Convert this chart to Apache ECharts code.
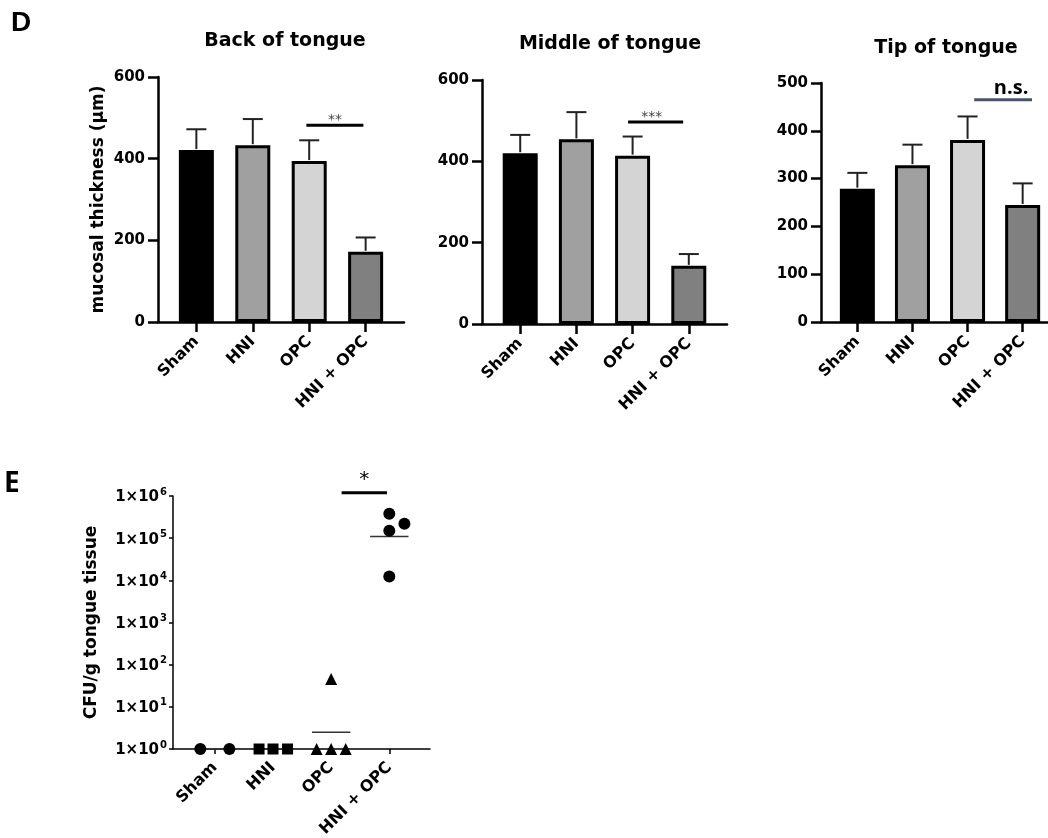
<!DOCTYPE html>
<html><head><meta charset="utf-8">
<script src="https://cdn.jsdelivr.net/npm/echarts@6/dist/echarts.min.js"></script>
<style>html,body{margin:0;padding:0;background:#fff}#c{width:1048px;height:838px}</style>
</head><body><div id="c"></div><script>
// ---------- data ----------
const categories = ['Sham', 'HNI', 'OPC', 'HNI + OPC'];
const barColors = ['#000000', '#a0a0a0', '#d4d4d4', '#808080'];

const backMean = [421, 433, 394, 172];
const backErr = [51, 64, 51, 35];
const middleMean = [420, 454, 414, 143];
const middleErr = [45, 67, 47, 29];
const tipMean = [279, 328, 381, 245];
const tipErr = [33, 43, 49, 45];

const backYTicks = [0, 200, 400, 600];
const middleYTicks = [0, 200, 400, 600];
const tipYTicks = [0, 100, 200, 300, 400, 500];

// CFU per group (individual animals) with horizontal jitter (in category units)
const shamCFU = [1, 1];
const shamJitter = [-0.25, 0.25];
const hniCFU = [1, 1, 1];
const hniJitter = [-0.24, 0, 0.25];
const opcCFU = [1, 46, 1, 1];
const opcJitter = [-0.25, 0, 0, 0.25];
const hniOpcCFU = [3.8e5, 2.2e5, 1.5e5, 1.24e4];
const hniOpcJitter = [0, 0.26, 0, 0];
const cfuMean = [1, 1, 2.5, 1.1e5];
const cfuYTicks = [1, 1e1, 1e2, 1e3, 1e4, 1e5, 1e6];

// significance brackets: [from group, to group, y value], label
const backSig = [1.95, 2.96, 482]; const backSigText = '**';
const middleSig = [1.92, 2.90, 497]; const middleSigText = '***';
const tipSig = [2.12, 3.17, 465]; const tipSigText = 'n.s.';
const cfuSig = [2.18, 2.96, 1.2e6]; const cfuSigText = '*';

// ---------- helpers ----------
const FONT = 'DejaVu Sans';
const idx = categories.map((c, i) => i);

function barXAxis(gi, min, max) {
  return {
    type: 'value', gridIndex: gi, min: min, max: max,
    axisLine: {show: true, onZero: false, lineStyle: {color: '#000', width: 2.5}},
    axisTick: {show: true, customValues: idx, length: 10, lineStyle: {color: '#000', width: 2.5}},
    axisLabel: {show: true, customValues: idx, rotate: 45, margin: 17, interval: 0,
      formatter: v => categories[Math.round(v)] || '',
      fontFamily: FONT, fontWeight: 'bold', fontSize: 16, color: '#000'},
    splitLine: {show: false}
  };
}
function barYAxis(gi, ticks, name) {
  return {
    type: 'value', gridIndex: gi, min: ticks[0], max: ticks[ticks.length - 1],
    interval: ticks[1] - ticks[0],
    name: name || '', nameLocation: 'middle', nameGap: 51,
    nameTextStyle: {fontFamily: FONT, fontWeight: 'bold', fontSize: 17, color: '#000'},
    axisLine: {show: true, onZero: false, lineStyle: {color: '#000', width: 2.5}},
    axisTick: {show: true, length: 10, lineStyle: {color: '#000', width: 2.5}},
    axisLabel: {margin: 13, fontFamily: FONT, fontWeight: 'bold', fontSize: 15, color: '#000'},
    splitLine: {show: false}
  };
}
function barSeries(gi, means) {
  return {
    type: 'bar', xAxisIndex: gi, yAxisIndex: gi, barWidth: 35,
    data: means.map((m, i) => ({value: [i, m], itemStyle: {color: barColors[i]}})),
    itemStyle: {borderColor: '#000', borderWidth: 3},
    z: 2
  };
}
function errSeries(gi, means, errs) {
  return {
    type: 'custom', xAxisIndex: gi, yAxisIndex: gi, z: 3,
    data: means.map((m, i) => [i, m, m + errs[i]]),
    encode: {x: 0, y: [1, 2]},
    renderItem: function (params, api) {
      const p0 = api.coord([api.value(0), api.value(1)]);
      const p1 = api.coord([api.value(0), api.value(2)]);
      const st = {stroke: '#222', lineWidth: 2};
      return {type: 'group', children: [
        {type: 'line', shape: {x1: p0[0], y1: p0[1] - 1, x2: p1[0], y2: p1[1]}, style: st},
        {type: 'line', shape: {x1: p1[0] - 10, y1: p1[1], x2: p1[0] + 10, y2: p1[1]}, style: st}
      ]};
    }
  };
}
function sigSeries(gi, sig, text, opts) {
  return {
    type: 'custom', xAxisIndex: gi, yAxisIndex: gi, z: 4, clip: false,
    data: [sig],
    encode: {x: [0, 1], y: 2},
    renderItem: function (params, api) {
      const a = api.coord([api.value(0), api.value(2)]);
      const b = api.coord([api.value(1), api.value(2)]);
      return {type: 'group', children: [
        {type: 'line', shape: {x1: a[0], y1: a[1], x2: b[0], y2: b[1]},
          style: {stroke: opts.lineColor, lineWidth: opts.lineWidth}},
        {type: 'text', style: {text: text, x: (a[0] + b[0]) / 2 + (opts.dx || 0), y: a[1] + (opts.dy || 0),
          align: 'center', verticalAlign: 'bottom', fill: opts.textColor,
          font: opts.font}}
      ]};
    }
  };
}
function cfuScatter(vals, jitter, groupIndex, symbol, size) {
  return {
    type: 'scatter', xAxisIndex: 3, yAxisIndex: 3, symbol: symbol, symbolSize: size, clip: false,
    itemStyle: {color: '#000', opacity: 1}, z: 3,
    data: vals.map((v, i) => [groupIndex + jitter[i], v])
  };
}

const option = {
  animation: false,
  backgroundColor: '#fff',
  title: [
    {text: 'Back of tongue', left: 280, top: 27, textAlign: 'center',
      textStyle: {fontFamily: FONT, fontWeight: 'bold', fontSize: 19, color: '#000'}},
    {text: 'Middle of tongue', left: 605, top: 30, textAlign: 'center',
      textStyle: {fontFamily: FONT, fontWeight: 'bold', fontSize: 19, color: '#000'}},
    {text: 'Tip of tongue', left: 941, top: 34, textAlign: 'center',
      textStyle: {fontFamily: FONT, fontWeight: 'bold', fontSize: 19, color: '#000'}}
  ],
  graphic: [
    {type: 'text', left: 11, top: 9, style: {text: 'D', font: 'bold 28px "Liberation Sans"', fill: '#000'}},
    {type: 'text', left: 4, top: 470, style: {text: 'E', font: 'bold 28px "Open Sans"', fill: '#000'}}
  ],
  grid: [
    {left: 158, top: 77, width: 246, height: 245, containLabel: false, outerBoundsMode: 'none'},
    {left: 482, top: 80, width: 245, height: 244, containLabel: false, outerBoundsMode: 'none'},
    {left: 821, top: 83, width: 227, height: 239, containLabel: false, outerBoundsMode: 'none'},
    {left: 173, top: 496, width: 257, height: 253, containLabel: false, outerBoundsMode: 'none'}
  ],
  xAxis: [
    barXAxis(0, -0.68, 3.68),
    barXAxis(1, -0.68, 3.68),
    barXAxis(2, -0.66, 3.46),
    {
      type: 'value', gridIndex: 3, min: -0.72, max: 3.70,
      axisLine: {show: true, onZero: false, lineStyle: {color: '#000', width: 1.5}},
      axisTick: {show: true, customValues: idx, length: 5, lineStyle: {color: '#000', width: 1.5}},
      axisLabel: {show: true, customValues: idx, rotate: 45, margin: 16, interval: 0,
        formatter: v => categories[Math.round(v)] || '',
        fontFamily: FONT, fontWeight: 'bold', fontSize: 16, color: '#000'},
      splitLine: {show: false}
    }
  ],
  yAxis: [
    barYAxis(0, backYTicks, 'mucosal thickness (\u00b5m)'),
    barYAxis(1, middleYTicks),
    barYAxis(2, tipYTicks),
    {
      type: 'log', logBase: 10, gridIndex: 3, min: cfuYTicks[0], max: cfuYTicks[cfuYTicks.length - 1],
      name: 'CFU/g tongue tissue', nameLocation: 'middle', nameGap: 73,
      nameTextStyle: {fontFamily: FONT, fontWeight: 'bold', fontSize: 17, color: '#000'},
      axisLine: {show: true, onZero: false, lineStyle: {color: '#000', width: 1.5}},
      axisTick: {show: true, length: 4, lineStyle: {color: '#000', width: 1.5}},
      minorTick: {show: false},
      axisLabel: {margin: 6, fontFamily: FONT, fontWeight: 'bold', fontSize: 15, color: '#000',
        formatter: v => '{a|1\u00d710}{b|' + Math.round(Math.log10(v)) + '}',
        rich: {
          a: {fontFamily: FONT, fontWeight: 'bold', fontSize: 15, color: '#000', lineHeight: 18, verticalAlign: 'bottom'},
          b: {fontFamily: FONT, fontWeight: 'bold', fontSize: 10, color: '#000', lineHeight: 18, verticalAlign: 'top', padding: [0, 0, 6, 1]}
        }},
      splitLine: {show: false}
    }
  ],
  series: [
    barSeries(0, backMean), errSeries(0, backMean, backErr),
    barSeries(1, middleMean), errSeries(1, middleMean, middleErr),
    barSeries(2, tipMean), errSeries(2, tipMean, tipErr),
    sigSeries(0, backSig, backSigText, {lineColor: '#000', lineWidth: 3, textColor: '#444', font: '14px "DejaVu Sans"', dy: 2}),
    sigSeries(1, middleSig, middleSigText, {lineColor: '#000', lineWidth: 3, textColor: '#444', font: '14px "DejaVu Sans"', dx: -4, dy: 2}),
    sigSeries(2, tipSig, tipSigText, {lineColor: '#44546a', lineWidth: 3, textColor: '#000', font: 'bold 20px "Open Sans"', dx: 8, dy: -1}),
    sigSeries(3, cfuSig, cfuSigText, {lineColor: '#000', lineWidth: 3, textColor: '#000', font: '20px "DejaVu Sans"', dy: -3}),
    cfuScatter(shamCFU, shamJitter, 0, 'circle', 12),
    cfuScatter(hniCFU, hniJitter, 1, 'rect', 11),
    cfuScatter(opcCFU, opcJitter, 2, 'triangle', 12),
    cfuScatter(hniOpcCFU, hniOpcJitter, 3, 'circle', 12),
    {
      type: 'custom', xAxisIndex: 3, yAxisIndex: 3, z: 2, clip: false,
      data: cfuMean.map((m, i) => [i, m]),
      renderItem: function (params, api) {
        const a = api.coord([api.value(0) - 0.33, api.value(1)]);
        const b = api.coord([api.value(0) + 0.33, api.value(1)]);
        return {type: 'line', shape: {x1: a[0], y1: a[1], x2: b[0], y2: b[1]}, style: {stroke: '#333', lineWidth: 1.5}};
      }
    }
  ]
};
const chart = echarts.init(document.getElementById('c'), null, {renderer: 'canvas'});
chart.setOption(option);
</script></body></html>
